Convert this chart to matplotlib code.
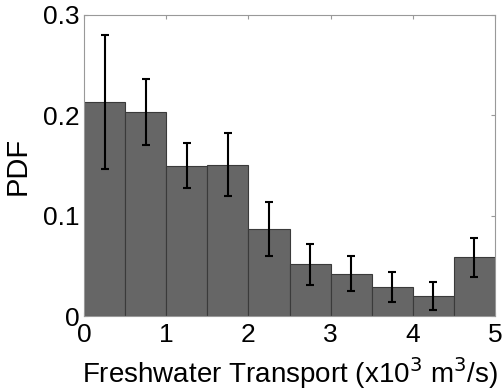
import matplotlib
matplotlib.use('Agg')
import matplotlib.pyplot as plt
import numpy as np

plt.rcParams['font.family'] = ['Liberation Sans', 'DejaVu Sans']

# histogram bins (left edges) and PDF values
bin_left = [0.0, 0.5, 1.0, 1.5, 2.0, 2.5, 3.0, 3.5, 4.0, 4.5]
pdf = [0.2136, 0.2037, 0.1495, 0.1508, 0.0870, 0.0515, 0.0419, 0.0292, 0.0203, 0.0585]
err_low = [0.1468, 0.1701, 0.1272, 0.1196, 0.0598, 0.0312, 0.0246, 0.0143, 0.0060, 0.0385]
err_high = [0.2804, 0.2362, 0.1724, 0.1821, 0.1140, 0.0721, 0.0595, 0.0442, 0.0342, 0.0781]
bin_width = 0.5

fig = plt.figure(figsize=(5.03, 3.91), dpi=100)
ax = fig.add_axes([84 / 503, 1 - 316 / 391, (495 - 84) / 503, (316 - 15) / 391])

centers = np.array(bin_left) + bin_width / 2
ax.bar(bin_left, pdf, width=bin_width, align='edge', color='#666666',
       edgecolor='#3a3a3a', linewidth=0.8, zorder=2)
yerr = [np.array(pdf) - np.array(err_low), np.array(err_high) - np.array(pdf)]
ax.errorbar(centers, pdf, yerr=yerr, fmt='none', ecolor='black',
            elinewidth=1.5, capsize=3, capthick=1.5, zorder=3)

ax.set_xlim(0, 5)
ax.set_ylim(0, 0.3)
ax.set_xticks([0, 1, 2, 3, 4, 5])
ax.set_yticks([0, 0.1, 0.2, 0.3])
ax.set_xticklabels(['0', '1', '2', '3', '4', '5'])
ax.set_yticklabels(['0', '0.1', '0.2', '0.3'])
ax.tick_params(direction='in', length=3, width=0.8, color='#999999',
               labelsize=19, top=True, right=True)
ax.tick_params(axis='x', pad=5)
ax.tick_params(axis='y', pad=3)
for s in ax.spines.values():
    s.set_color('#999999')
    s.set_linewidth(0.8)

ax.set_xlabel(r'Freshwater Transport (x10$^3$ m$^3$/s)', fontsize=20, labelpad=6)
ax.set_ylabel('PDF', fontsize=21, labelpad=8)

fig.savefig('out.png', dpi=100)
